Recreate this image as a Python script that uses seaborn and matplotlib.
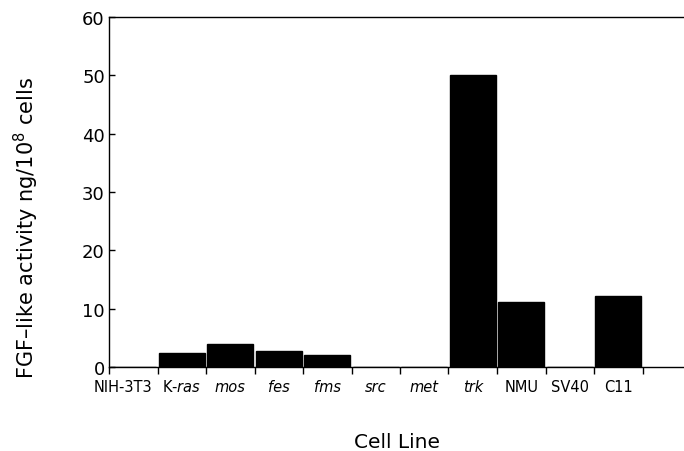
import matplotlib
matplotlib.use("Agg")
import matplotlib.pyplot as plt
import matplotlib.transforms as mtransforms
import seaborn as sns
import pandas as pd
import numpy as np

categories = ["NIH-3T3", "K-ras", "mos", "fes", "fms", "src", "met", "trk", "NMU", "SV40", "C11"]
tick_labels = ["NIH-3T3", "K-$\\mathit{ras}$", "mos", "fes", "fms", "src", "met", "trk", "NMU", "SV40", "C11"]
italic_labels = [False, False, True, True, True, True, True, True, False, False, False]
values = [0.0, 2.4, 3.9, 2.7, 2.1, 0.0, 0.0, 50.0, 11.2, 0.0, 12.2]
y_ticks = [0, 10, 20, 30, 40, 50, 60]

sns.set_theme(style="white")
plt.rcParams["font.family"] = ["DejaVu Sans"]
plt.rcParams["mathtext.fontset"] = "custom"
plt.rcParams["mathtext.rm"] = "DejaVu Sans"
plt.rcParams["mathtext.it"] = "DejaVu Sans:italic"
plt.rcParams["mathtext.bf"] = "DejaVu Sans:bold"

df = pd.DataFrame({"cell": categories, "val": values})

fig = plt.figure(figsize=(6.84, 4.52), dpi=100)
ax = fig.add_axes([109 / 684, (452 - 368) / 452, 575 / 684, 350 / 452])

sns.barplot(data=df, x="cell", y="val", color="black", width=0.95, saturation=1, ax=ax)
for p in ax.patches:
    p.set_edgecolor("black")
    p.set_facecolor("black")

ax.set_xlim(-0.5, -0.5 + 575 / 48.5)
ax.set_ylim(0, 60)

for s in ["left", "bottom", "top"]:
    ax.spines[s].set_visible(True)
    ax.spines[s].set_color("black")
    ax.spines[s].set_linewidth(1.0)
ax.spines["right"].set_visible(False)

ax.set_yticks(y_ticks)
ax.set_yticklabels([str(v) for v in y_ticks])
ax.tick_params(axis="y", direction="in", length=4, width=1.0, labelsize=13, pad=3, color="black",
               labelcolor="black", left=True)

n = len(categories)
ax.set_xticks(np.arange(-0.5, n, 1.0))
ax.set_xticklabels([""] * (n + 1))
ax.tick_params(axis="x", which="major", direction="out", length=5, width=1.0, color="black", bottom=True)
ax.set_xticks(np.arange(n), minor=True)
ax.set_xticklabels(tick_labels, minor=True)
ax.tick_params(axis="x", which="minor", length=0, labelsize=10.5, pad=17, labelcolor="black")
for i, (t, it) in enumerate(zip(ax.get_xticklabels(minor=True), italic_labels)):
    t.set_va("baseline")
    if it:
        t.set_fontstyle("italic")
    if i == 0:
        t.set_transform(t.get_transform() + mtransforms.ScaledTranslation(-0.10, 0, fig.dpi_scale_trans))

ax.set_xlabel("Cell Line", fontsize=14.5, color="black")
ax.xaxis.set_label_coords(0.5, -0.186)
ax.set_ylabel("FGF\u2013like activity ng/10$^{8}$ cells", fontsize=15, color="black")
ax.yaxis.set_label_coords(-0.118, 0.40)

fig.savefig("out.png", dpi=100)
